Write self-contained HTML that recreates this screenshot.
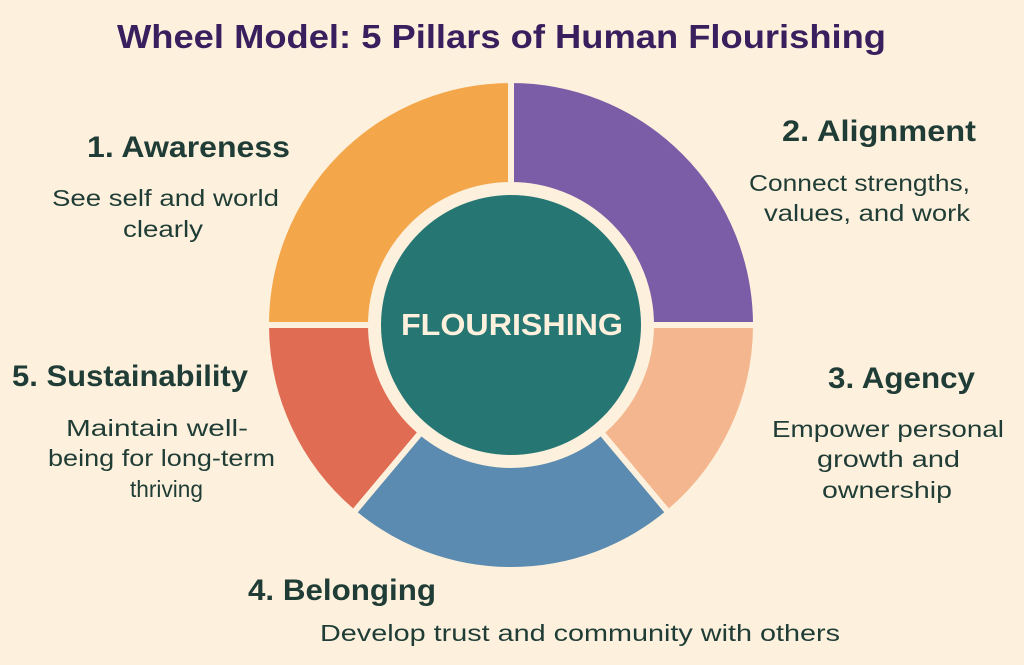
<!DOCTYPE html>
<html><head><meta charset="utf-8"><style>
html,body{margin:0;padding:0;background:#FDF0DC;}
svg{display:block}
</style></head><body>
<svg width="1024" height="665" viewBox="0 0 1024 665" xmlns="http://www.w3.org/2000/svg">
<rect width="1024" height="665" fill="#FDF0DC"/>
<g stroke="#FDF0DC" stroke-width="6" stroke-linejoin="miter">
<path d="M266,325 A245,245 0 0 1 511,80 L511,185 A140,140 0 0 0 371,325 Z" fill="#F4A64A"/>
<path d="M511,80 A245,245 0 0 1 756,325 L651,325 A140,140 0 0 0 511,185 Z" fill="#7A5DA6"/>
<path d="M756,325 A245,245 0 0 1 668.5,512.7 L601,432.2 A140,140 0 0 0 651,325 Z" fill="#F3B68E"/>
<path d="M668.5,512.7 A245,245 0 0 1 353.5,512.7 L421,432.2 A140,140 0 0 0 601,432.2 Z" fill="#5B8BB0"/>
<path d="M353.5,512.7 A245,245 0 0 1 266,325 L371,325 A140,140 0 0 0 421,432.2 Z" fill="#E06C53"/>
</g>
<circle cx="511" cy="325" r="130" fill="#267674"/>
<g font-family="Liberation Sans, sans-serif">
<text x="117" y="48" font-size="33" font-weight="bold" fill="#3A1F5E" textLength="769" lengthAdjust="spacingAndGlyphs">Wheel Model: 5 Pillars of Human Flourishing</text>
<text x="401" y="335" font-size="31" font-weight="bold" fill="#FDF0DC" textLength="222" lengthAdjust="spacingAndGlyphs">FLOURISHING</text>
<g fill="#1F3D36" font-weight="bold" font-size="30">
<text x="87" y="157" textLength="203" lengthAdjust="spacingAndGlyphs">1.  Awareness</text>
<text x="782" y="141" textLength="194" lengthAdjust="spacingAndGlyphs">2. Alignment</text>
<text x="12" y="386" textLength="236" lengthAdjust="spacingAndGlyphs">5. Sustainability</text>
<text x="828" y="388" textLength="147" lengthAdjust="spacingAndGlyphs">3. Agency</text>
<text x="248" y="600" textLength="188" lengthAdjust="spacingAndGlyphs">4. Belonging</text>
</g>
<g fill="#1F3D36" font-size="23">
<text x="52" y="206" textLength="227" lengthAdjust="spacingAndGlyphs">See self and world</text>
<text x="123" y="237" textLength="80" lengthAdjust="spacingAndGlyphs">clearly</text>
<text x="749" y="191" textLength="221" lengthAdjust="spacingAndGlyphs">Connect strengths,</text>
<text x="764" y="221" textLength="206" lengthAdjust="spacingAndGlyphs">values, and work</text>
<text x="66" y="436" textLength="182" lengthAdjust="spacingAndGlyphs">Maintain well-</text>
<text x="48" y="466" textLength="227" lengthAdjust="spacingAndGlyphs">being for long-term</text>
<text x="130" y="497" textLength="73" lengthAdjust="spacingAndGlyphs">thriving</text>
<text x="772" y="437" textLength="232" lengthAdjust="spacingAndGlyphs">Empower personal</text>
<text x="817" y="467" textLength="143" lengthAdjust="spacingAndGlyphs">growth and</text>
<text x="822" y="498" textLength="130" lengthAdjust="spacingAndGlyphs">ownership</text>
<text x="320" y="641" textLength="520" lengthAdjust="spacingAndGlyphs">Develop trust and community with others</text>
</g>
</g>
</svg>
</body></html>
